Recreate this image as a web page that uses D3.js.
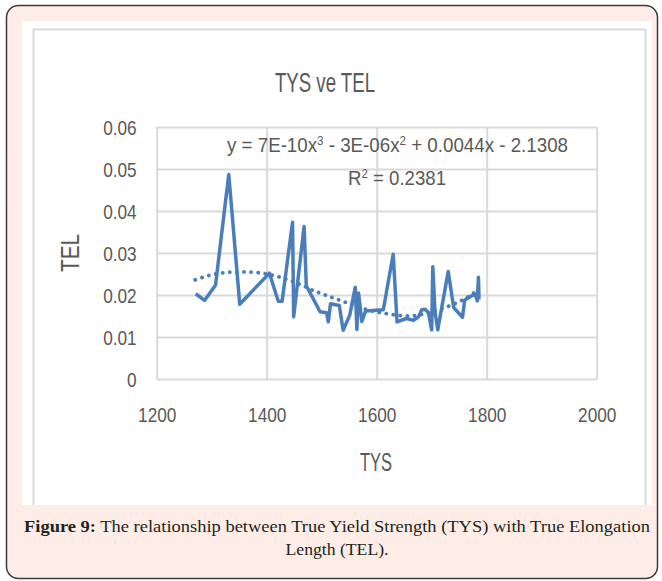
<!DOCTYPE html>
<html>
<head>
    <meta charset="utf-8">
    <title>TYS ve TEL</title>
    <script src="https://d3js.org/d3.v7.min.js"></script>
    <style>
        body { margin: 0; background: #fff; overflow: hidden; }
        .chart-text { font-family: "Liberation Sans Narrow", "Liberation Sans", Arial, sans-serif; fill: #595959; }
        .caption { font-family: "Liberation Serif", "DejaVu Serif", serif; fill: #231f20; font-size: 17px; }
        .grid line { stroke: #d9d9d9; stroke-width: 2px; }
    </style>
</head>
<body>
    <div id="chart"></div>

    <script>
        // values
        const tys = [1271, 1287, 1307, 1331, 1351, 1405, 1421, 1428, 1447, 1449, 1468, 1472,
                     1497, 1509, 1512, 1516, 1532, 1539, 1551, 1561, 1564, 1567, 1573, 1580,
                     1612, 1630, 1637, 1654, 1667, 1676, 1682, 1688, 1694, 1700, 1702, 1706,
                     1711, 1730, 1740, 1756, 1760, 1770, 1779, 1783, 1785, 1786];
        const tel = [0.0203, 0.0187, 0.0224, 0.0487, 0.0178, 0.0252, 0.0185, 0.0185, 0.0373, 0.0148, 0.0363, 0.0222,
                     0.0160, 0.0158, 0.0136, 0.0179, 0.0175, 0.0116, 0.0152, 0.0218, 0.0118, 0.0205, 0.0137, 0.0162,
                     0.0165, 0.0297, 0.0136, 0.0144, 0.0140, 0.0148, 0.0165, 0.0166, 0.0158, 0.0117, 0.0267, 0.0160,
                     0.0117, 0.0256, 0.0170, 0.0147, 0.0188, 0.0196, 0.0202, 0.0186, 0.0242, 0.0190];

        // dotted polynomial trend
        const trendX = [1270, 1300, 1330, 1360, 1400, 1450, 1490, 1530, 1580, 1620, 1660, 1700, 1730, 1760, 1785];
        const trendY = [0.0236, 0.0248, 0.0254, 0.0255, 0.0250, 0.0231, 0.0208, 0.0189, 0.0166, 0.0155, 0.0150, 0.0160, 0.0173, 0.0191, 0.0213];

        const xTicks = [1200, 1400, 1600, 1800, 2000];
        const yTicks = [0, 0.01, 0.02, 0.03, 0.04, 0.05, 0.06];

        const W = 662, H = 581;
        const blue = "#4a7ebb";

        const svg = d3.select("#chart").append("svg")
            .attr("width", W)
            .attr("height", H);

        // squeeze text horizontally (the chart font is a narrow one)
        function narrow(sel, k) {
            sel.each(function() {
                const len = this.getComputedTextLength();
                d3.select(this)
                    .attr("textLength", len * k)
                    .attr("lengthAdjust", "spacingAndGlyphs");
            });
        }

        // peach figure box with dark rounded border
        svg.append("rect")
            .attr("x", 6.5).attr("y", 5.5)
            .attr("width", 651).attr("height", 573)
            .attr("rx", 12)
            .attr("fill", "#fdede6")
            .attr("stroke", "#3a3a3a")
            .attr("stroke-width", 1.5);

        // white picture area
        svg.append("rect")
            .attr("x", 22).attr("y", 21)
            .attr("width", 630).attr("height", 484)
            .attr("fill", "#fff");

        // light chart frame (left, top, right)
        svg.append("path")
            .attr("d", "M33.5,505V29.5H645.5V505")
            .attr("fill", "none")
            .attr("stroke", "#d9d9d9")
            .attr("stroke-width", 2);

        const x = d3.scaleLinear().domain([1200, 2000]).range([156.7, 596.7]);
        const y = d3.scaleLinear().domain([0, 0.06]).range([379, 127]);

        // horizontal gridlines + y labels
        const yAxis = svg.append("g")
            .attr("class", "grid chart-text")
            .attr("transform", `translate(${x(1200)},0)`)
            .call(d3.axisLeft(y).tickValues(yTicks)
                .tickSize(-(x(2000) - x(1200)))
                .tickPadding(20)
                .tickFormat(d => d === 0 ? "0" : d3.format(".2f")(d)));
        yAxis.select(".domain").remove();
        yAxis.selectAll("text")
            .attr("fill", "#595959")
            .style("font-family", "\"Liberation Sans\", sans-serif")
            .style("font-size", "21px")
            .attr("dy", "0.36em")
            .call(narrow, 0.82);

        // vertical gridlines + x labels
        const xAxis = svg.append("g")
            .attr("class", "grid chart-text")
            .attr("transform", `translate(0,${y(0)})`)
            .call(d3.axisBottom(x).tickValues(xTicks)
                .tickSize(-(y(0) - y(0.06)))
                .tickPadding(28)
                .tickFormat(d3.format("d")));
        xAxis.select(".domain").remove();
        xAxis.selectAll("text")
            .attr("fill", "#595959")
            .style("font-family", "\"Liberation Sans\", sans-serif")
            .style("font-size", "21px")
            .call(narrow, 0.82);

        // data line
        const line = d3.line()
            .x(d => x(d[0]))
            .y(d => y(d[1]));

        svg.append("path")
            .datum(tys.map((v, i) => [v, tel[i]]))
            .attr("d", line)
            .attr("fill", "none")
            .attr("stroke", blue)
            .attr("stroke-width", 3.5)
            .attr("stroke-linejoin", "round");

        // trend line (dotted)
        svg.append("path")
            .datum(trendX.map((v, i) => [v, trendY[i]]))
            .attr("d", line.curve(d3.curveMonotoneX))
            .attr("fill", "none")
            .attr("stroke", blue)
            .attr("stroke-width", 3.8)
            .attr("stroke-linecap", "round")
            .attr("stroke-dasharray", "0.1 7");

        // titles
        svg.append("text")
            .attr("class", "chart-text")
            .attr("x", 325).attr("y", 91.5)
            .attr("text-anchor", "middle")
            .style("font-size", "27px")
            .attr("textLength", 100)
            .attr("lengthAdjust", "spacingAndGlyphs")
            .text("TYS ve TEL");

        const eq = svg.append("text")
            .attr("class", "chart-text")
            .attr("x", 227).attr("y", 151.5)
            .style("font-size", "21px")
            .attr("textLength", 341)
            .attr("lengthAdjust", "spacingAndGlyphs");
        const eqParts = [["y = 7E-10x", 0], ["3", 1], [" - 3E-06x", 0], ["2", 1], [" + 0.0044x - 2.1308", 0]];
        eqParts.forEach(p => {
            eq.append("tspan")
                .attr("baseline-shift", p[1] ? "super" : null)
                .style("font-size", p[1] ? "13px" : null)
                .text(p[0]);
        });

        const r2 = svg.append("text")
            .attr("class", "chart-text")
            .attr("x", 348).attr("y", 185)
            .style("font-size", "21px")
            .attr("textLength", 98)
            .attr("lengthAdjust", "spacingAndGlyphs");
        r2.append("tspan").text("R");
        r2.append("tspan").attr("baseline-shift", "super").style("font-size", "13px").text("2");
        r2.append("tspan").text(" = 0.2381");

        svg.append("text")
            .attr("class", "chart-text")
            .attr("x", 376).attr("y", 470.5)
            .attr("text-anchor", "middle")
            .style("font-size", "26px")
            .attr("textLength", 32)
            .attr("lengthAdjust", "spacingAndGlyphs")
            .text("TYS");

        svg.append("text")
            .attr("class", "chart-text")
            .attr("transform", "translate(79,253) rotate(-90)")
            .attr("text-anchor", "middle")
            .style("font-size", "26px")
            .attr("textLength", 38)
            .attr("lengthAdjust", "spacingAndGlyphs")
            .text("TEL");

        // caption
        const cap1 = svg.append("text")
            .attr("class", "caption")
            .attr("x", 337).attr("y", 532)
            .attr("text-anchor", "middle")
            .attr("textLength", 626)
            .attr("lengthAdjust", "spacingAndGlyphs");
        cap1.append("tspan").style("font-weight", "bold").text("Figure 9:");
        cap1.append("tspan").text(" The relationship between True Yield Strength (TYS) with True Elongation");

        svg.append("text")
            .attr("class", "caption")
            .attr("x", 337).attr("y", 555)
            .attr("text-anchor", "middle")
            .attr("textLength", 103)
            .attr("lengthAdjust", "spacingAndGlyphs")
            .text("Length (TEL).");
    </script>
</body>
</html>
